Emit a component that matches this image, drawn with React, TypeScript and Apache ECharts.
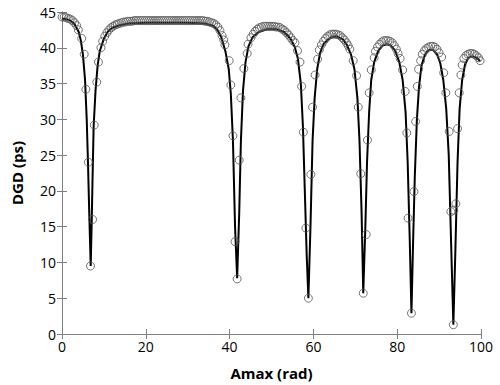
import React, { useEffect, useRef } from "react";
import * as echarts from "echarts";

// Tick labels
const xTicks = [0, 20, 40, 60, 80, 100];
const yTicks = [0, 5, 10, 15, 20, 25, 30, 35, 40, 45];

// Measured points (open circles): [Amax (rad), DGD (ps)]
const measuredPoints: [number, number][] = [
  [0, 44.3], [0.5, 44.3], [1, 44.2], [1.5, 44.1], [2, 44.0], [2.5, 43.8], [3, 43.5], [3.5, 43.1],
  [3.9, 42.5], [4.7, 41.3], [5.3, 39.1], [5.7, 34.2], [6.3, 24.0], [6.8, 9.5], [7.3, 16.0],
  [7.7, 29.2], [8.3, 35.2], [8.7, 38.0], [9.3, 40.0], [9.7, 40.9], [10.2, 41.6], [10.7, 42.1],
  [11.2, 42.5], [11.7, 42.8], [12.2, 43.0], [12.7, 43.2], [13.2, 43.3], [13.7, 43.4], [14.2, 43.5],
  [14.7, 43.6], [15.2, 43.6], [15.7, 43.7], [16.2, 43.7], [16.7, 43.7], [17.2, 43.8], [17.7, 43.8],
  [18.2, 43.8], [18.7, 43.8], [19.2, 43.8], [19.7, 43.8], [20.2, 43.8], [20.7, 43.8], [21.2, 43.8],
  [21.7, 43.8], [22.2, 43.8], [22.7, 43.8], [23.2, 43.8], [23.7, 43.8], [24.2, 43.8], [24.7, 43.8],
  [25.2, 43.8], [25.7, 43.8], [26.2, 43.8], [26.7, 43.8], [27.2, 43.8], [27.7, 43.8], [28.2, 43.8],
  [28.7, 43.8], [29.2, 43.8], [29.7, 43.8], [30.2, 43.8], [30.7, 43.8], [31.2, 43.8], [31.7, 43.8],
  [32.2, 43.8], [32.7, 43.8], [33.2, 43.8], [33.7, 43.8], [34.2, 43.7], [34.7, 43.7], [35.2, 43.6],
  [35.7, 43.5], [36.2, 43.4], [36.7, 43.2], [37.2, 42.9], [37.7, 42.4], [38.2, 41.7], [38.6, 41.1],
  [38.9, 40.4], [39.9, 38.2], [40.3, 34.8], [40.8, 27.7], [41.3, 12.9], [41.8, 7.7], [42.3, 24.3],
  [42.7, 33.0], [43.4, 37.1], [44.2, 39.2], [44.4, 40.5], [45.1, 41.4], [45.6, 41.9], [46.1, 42.3],
  [46.6, 42.6], [47.1, 42.8], [47.6, 42.9], [48.1, 43.0], [48.6, 43.0], [49.1, 43.0], [49.6, 43.0],
  [50.1, 43.0], [50.6, 43.0], [51.1, 42.9], [51.6, 42.9], [52.1, 42.8], [52.6, 42.6], [53.1, 42.4],
  [53.6, 42.1], [54.1, 41.8], [54.6, 41.4], [55.1, 41.0], [55.6, 40.7], [56.2, 39.6], [56.8, 38.0],
  [57.2, 34.6], [57.6, 28.2], [58.2, 14.8], [58.8, 5.0], [59.4, 22.3], [59.8, 31.7], [60.4, 36.2],
  [61.0, 38.4], [61.4, 39.7], [61.9, 40.4], [62.4, 40.9], [62.9, 41.3], [63.4, 41.6], [63.9, 41.8],
  [64.4, 41.9], [64.9, 41.9], [65.4, 41.9], [65.9, 41.8], [66.4, 41.7], [66.9, 41.4], [67.4, 41.1],
  [67.9, 40.7], [68.3, 40.3], [68.7, 39.8], [69.5, 38.2], [70.3, 36.1], [70.7, 31.7], [71.3, 22.4],
  [71.9, 5.7], [72.6, 13.9], [72.9, 27.1], [73.3, 33.7], [73.8, 36.9], [74.5, 38.6], [74.8, 39.5],
  [75.3, 40.1], [75.8, 40.5], [76.3, 40.8], [76.8, 41.0], [77.3, 41.0], [77.8, 41.0], [78.3, 40.9],
  [78.8, 40.7], [79.3, 40.3], [79.8, 39.8], [80.2, 39.2], [80.7, 38.5], [81.3, 36.9], [81.9, 33.9],
  [82.3, 28.1], [82.6, 16.2], [83.4, 2.9], [84.0, 19.9], [84.4, 29.7], [84.8, 34.6], [85.1, 37.0],
  [85.6, 38.2], [86.0, 39.1], [86.5, 39.6], [87.0, 39.9], [87.5, 40.1], [88.0, 40.2], [88.5, 40.2],
  [89.0, 40.1], [89.5, 39.8], [90.0, 39.3], [90.6, 38.7], [91.1, 36.5], [91.6, 33.7], [92.4, 28.3],
  [92.8, 17.1], [93.4, 1.3], [93.5, 17.3], [94.0, 18.2], [94.4, 28.7], [94.8, 33.7], [95.2, 36.2],
  [95.5, 37.6], [95.9, 38.5], [96.4, 38.9], [96.9, 39.1], [97.4, 39.2], [97.9, 39.2], [98.4, 39.1],
  [98.9, 38.9], [99.4, 38.6], [99.8, 38.2],
];

// Fitted curve (solid line): [Amax (rad), DGD (ps)]
const fittedCurve: [number, number][] = [
  [0, 44.1], [1, 44.0], [2, 43.8], [3, 43.3], [4, 42.2], [4.5, 41.0], [5, 39.0], [5.5, 35.5],
  [5.9, 30.0], [6.2, 24.0], [6.5, 17.0], [6.85, 9.5], [7.1, 16.0], [7.3, 22.0], [7.55, 29.0],
  [8.0, 34.0], [8.5, 37.5], [9, 39.5], [10, 41.3], [11, 42.3], [12, 42.8], [14, 43.2], [16, 43.4],
  [20, 43.5], [30, 43.5], [34, 43.4], [36, 43.1], [37, 42.6], [38, 41.5], [39, 39.5], [39.8, 37.0],
  [40.3, 33.5], [40.8, 27.0], [41.3, 15.0], [41.8, 7.8], [42.3, 17.0], [42.7, 27.0], [43.2, 34.0],
  [43.8, 38.0], [44.5, 40.2], [45.5, 41.5], [47, 42.2], [49, 42.6], [51, 42.6], [53, 42.2],
  [54.5, 41.3], [55.5, 40.2], [56.3, 38.5], [57, 35.0], [57.5, 29.0], [58, 19.0], [58.4, 11.0],
  [58.8, 5.0], [59.3, 15.0], [59.8, 27.0], [60.3, 33.0], [60.9, 37.0], [61.6, 39.3], [62.5, 40.6],
  [64, 41.4], [65.5, 41.6], [67, 41.2], [68, 40.4], [69, 39.0], [69.8, 37.0], [70.5, 33.0],
  [71, 27.0], [71.5, 17.0], [71.9, 5.7], [72.4, 15.0], [72.8, 24.0], [73.3, 31.0], [73.8, 35.5],
  [74.5, 38.0], [75.5, 39.6], [76.5, 40.3], [77.5, 40.5], [78.5, 40.3], [79.5, 39.6], [80.5, 38.0],
  [81.3, 35.5], [82, 31.0], [82.5, 24.0], [83, 13.0], [83.4, 2.9], [83.8, 13.0], [84.2, 22.0],
  [84.7, 30.0], [85.2, 34.5], [85.8, 37.5], [86.6, 39.0], [87.5, 39.7], [88.5, 39.7], [89.5, 39.1],
  [90.3, 37.8], [91, 35.5], [91.7, 31.5], [92.3, 25.0], [92.9, 12.0], [93.4, 1.3], [93.9, 12.0],
  [94.4, 24.0], [94.9, 31.5], [95.5, 35.5], [96.2, 37.7], [97, 38.6], [98, 38.8], [99, 38.6],
  [99.8, 38.1],
];

const FONT = "'Open Sans', 'DejaVu Sans', sans-serif";

export default function App() {
  const ref = useRef<HTMLDivElement>(null);

  useEffect(() => {
    if (!ref.current) return;
    const chart = echarts.init(ref.current, null, { renderer: "svg" });
    const axisLine = { show: true, lineStyle: { color: "#808080", width: 1 } };
    const tick = { show: true, inside: true, length: 5, lineStyle: { color: "#808080" } };
    const xMin = xTicks[0];
    const xMax = xTicks[xTicks.length - 1];
    const yMin = yTicks[0];
    const yMax = yTicks[yTicks.length - 1];
    chart.setOption({
      animation: false,
      backgroundColor: "#ffffff",
      grid: { left: 62, right: 19, top: 12, bottom: 43, containLabel: false },
      xAxis: [
        {
          type: "value", min: xMin, max: xMax, interval: 20, position: "bottom",
          axisLine, axisTick: tick, splitLine: { show: false },
          axisLabel: { color: "#000", fontSize: 14, fontFamily: FONT, margin: 5 },
          name: "Amax (rad)", nameLocation: "middle", nameGap: 31,
          nameTextStyle: { color: "#000", fontSize: 15, fontWeight: "bold", fontFamily: FONT },
        },
        {
          type: "value", min: xMin, max: xMax, interval: 20, position: "top",
          axisLine, axisTick: tick, splitLine: { show: false }, axisLabel: { show: false },
        },
      ],
      yAxis: [
        {
          type: "value", min: yMin, max: yMax, interval: 5, position: "left",
          axisLine, axisTick: tick, splitLine: { show: false },
          axisLabel: { color: "#000", fontSize: 14, fontFamily: FONT, margin: 6 },
          name: "DGD (ps)", nameLocation: "middle", nameGap: 38,
          nameTextStyle: { color: "#000", fontSize: 15, fontWeight: "bold", fontFamily: FONT },
        },
        {
          type: "value", min: yMin, max: yMax, interval: 5, position: "right",
          axisLine, axisTick: tick, splitLine: { show: false }, axisLabel: { show: false },
        },
      ],
      series: [
        {
          type: "line", data: fittedCurve, showSymbol: false, symbol: "none",
          lineStyle: { color: "#000", width: 2 }, z: 2,
        },
        {
          type: "scatter", data: measuredPoints, symbol: "circle", symbolSize: 8,
          itemStyle: { color: "rgba(255,255,255,0)", borderColor: "#555", borderWidth: 1 },
          z: 3,
        },
      ],
    });
    return () => chart.dispose();
  }, []);

  return (
    <div
      ref={ref}
      style={{ position: "fixed", left: 0, top: 0, width: 500, height: 385, background: "#fff" }}
    />
  );
}
